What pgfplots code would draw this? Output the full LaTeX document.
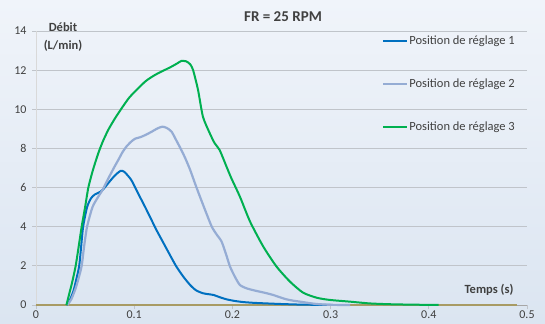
\documentclass[border=0pt]{standalone}
\usepackage{pgfplots}
\pgfplotsset{compat=1.18}
\usepackage{fontspec}
\setmainfont{Carlito}
\definecolor{cA}{RGB}{0,112,192}
\definecolor{cB}{RGB}{149,172,212}
\definecolor{cC}{RGB}{0,176,80}
\definecolor{cO}{RGB}{168,155,100}
\definecolor{bgtop}{RGB}{240,244,250}
\definecolor{bgbot}{RGB}{219,229,241}
\definecolor{gridc}{RGB}{192,196,202}
\definecolor{txt}{RGB}{64,64,64}
\begin{document}
\begin{tikzpicture}
\shade[top color=bgtop, bottom color=bgbot] (0bp,0bp) rectangle (545bp,324bp);
\useasboundingbox (0bp,0bp) rectangle (545bp,324bp);
\begin{axis}[
  at={(36bp,19bp)}, anchor=south west,
  width=491bp, height=274bp, scale only axis,
  xmin=0, xmax=0.5, ymin=0, ymax=14,
  xtick={0,0.1,0.2,0.3,0.4,0.5},
  xticklabels={0,0.1,0.2,0.3,0.4,0.5},
  ytick={0,2,4,6,8,10,12,14},
  axis x line*=bottom, axis y line*=left,
  x axis line style={-, color=gray!70, line width=0.8bp},
  y axis line style={-, color=gray!30, line width=0.8bp},
  tick align=outside, major tick length=4bp,
  tick style={color=gridc, line width=0.75bp},
  ymajorgrids, major grid style={color=gridc, line width=0.75bp},
  /pgf/number format/assume math mode=true,
  ticklabel style={font=\fontsize{12bp}{14bp}\selectfont, text=txt},
  yticklabel style={xshift=-2bp},
  xticklabel style={yshift=1.5bp},
  legend style={draw=none, fill=none, at={(0.7047,0.985)}, anchor=north west,
    font=\fontsize{12.5bp}{15bp}\selectfont, text=txt, inner sep=0pt,
    row sep=30.5bp, nodes={inner sep=1bp}},
  legend cell align=left,
  legend image code/.code={\draw[#1] (0bp,0bp) -- (24bp,0bp);},
  clip=false,
]
\addplot[color=cO, line width=2bp, forget plot] coordinates {(0,0) (0.49,0)};
\addplot[color=cA, line width=2bp, smooth, tension=0.4] coordinates {
(0.031,0) (0.034,0.2) (0.038,0.7) (0.041,1.3) (0.044,2.0) (0.046,3.0) (0.048,4.0)
(0.052,5.0) (0.056,5.45) (0.060,5.65) (0.066,5.8) (0.070,6.0) (0.074,6.25) (0.080,6.6)
(0.086,6.85) (0.090,6.8) (0.097,6.39) (0.104,5.7) (0.111,5.02) (0.116,4.51) (0.123,3.8)
(0.130,3.15) (0.137,2.5) (0.143,1.96) (0.150,1.45) (0.157,1.02) (0.163,0.75) (0.170,0.60)
(0.176,0.55) (0.181,0.51) (0.187,0.40) (0.194,0.29) (0.202,0.21) (0.211,0.15) (0.222,0.11)
(0.235,0.08) (0.25,0.05) (0.27,0.02) (0.30,0.0)};
\addlegendentry{Position de réglage 1}
\addplot[color=cB, line width=2.2bp, smooth, tension=0.4] coordinates {
(0.032,0) (0.036,0.3) (0.040,0.8) (0.043,1.3) (0.0465,2.0) (0.049,3.0) (0.052,4.0)
(0.0575,5.0) (0.063,5.5) (0.068,5.9) (0.074,6.5) (0.080,7.07) (0.0838,7.41) (0.088,7.8)
(0.092,8.09) (0.097,8.35) (0.101,8.5) (0.106,8.57) (0.112,8.7) (0.118,8.86) (0.124,9.03)
(0.1287,9.11) (0.133,9.05) (0.138,8.86) (0.143,8.4) (0.148,7.92) (0.152,7.5) (0.157,6.9)
(0.162,6.2) (0.167,5.53) (0.173,4.75) (0.179,4.0) (0.184,3.6) (0.189,3.24) (0.1935,2.6)
(0.1976,1.96) (0.203,1.4) (0.2077,1.02) (0.2145,0.85) (0.221,0.76) (0.228,0.68) (0.235,0.6)
(0.2417,0.51) (0.248,0.4) (0.255,0.29) (0.262,0.22) (0.269,0.17) (0.278,0.1) (0.286,0.05)
(0.30,0.01) (0.32,0)};
\addlegendentry{Position de réglage 2}
\addplot[color=cC, line width=2bp, smooth, tension=0.4] coordinates {
(0.031,0) (0.034,0.6) (0.037,1.2) (0.0404,2.0) (0.0435,3.0) (0.0465,4.0) (0.050,5.0)
(0.0533,6.0) (0.058,6.9) (0.0634,7.75) (0.068,8.35) (0.0736,8.95) (0.080,9.5) (0.0872,10.05)
(0.095,10.6) (0.104,11.07) (0.112,11.45) (0.121,11.75) (0.130,11.98) (0.138,12.18)
(0.144,12.35) (0.148,12.47) (0.153,12.45) (0.157,12.3) (0.160,12.0) (0.165,10.99)
(0.170,9.62) (0.177,8.77) (0.182,8.26) (0.187,7.92) (0.194,7.07) (0.199,6.47) (0.2077,5.53)
(0.218,4.26) (0.2315,2.98) (0.245,1.96) (0.2587,1.19) (0.272,0.63) (0.286,0.37) (0.299,0.26)
(0.32,0.17) (0.34,0.08) (0.36,0.04) (0.38,0.02) (0.41,0)};
\addlegendentry{Position de réglage 3}
\end{axis}
\node[font=\fontsize{15bp}{18bp}\selectfont\bfseries, text=txt] at (283bp,307bp) {FR = 25 RPM};
\node[font=\fontsize{12.5bp}{18bp}\selectfont\bfseries, text=txt, align=center] at (63bp,287bp) {Débit\\(L/min)};
\node[font=\fontsize{12.5bp}{15bp}\selectfont\bfseries, text=txt] at (489bp,34bp) {Temps (s)};
\end{tikzpicture}
\end{document}
